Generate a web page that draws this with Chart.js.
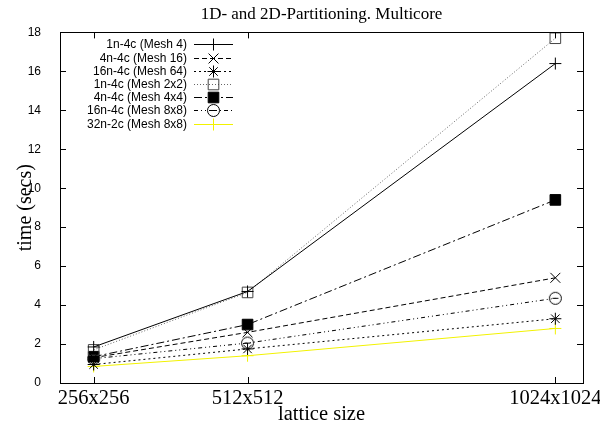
<!DOCTYPE html>
<html>
<head>
<meta charset="utf-8">
<script src="https://cdn.jsdelivr.net/npm/chart.js"></script>
<style>
  html, body { margin: 0; padding: 0; background: #fff; }
  #chart { display: block; }
</style>
</head>
<body>
<canvas id="chart" width="600" height="425"></canvas>
<script>
// lattice side lengths and their tick labels
const latticeSizes = [256, 512, 1024];
const latticeLabels = ['256x256', '512x512', '1024x1024'];
const yTicks = [0, 2, 4, 6, 8, 10, 12, 14, 16, 18];

// times in seconds
const mesh4 = [1.85, 4.7, 16.4];
const mesh16 = [1.3, 2.6, 5.4];
const mesh64 = [0.95, 1.75, 3.3];
const mesh2x2 = [1.7, 4.65, 17.7];
const mesh4x4 = [1.35, 3.0, 9.4];
const mesh8x8 = [1.25, 2.05, 4.35];
const mesh8x8_32n = [0.85, 1.4, 2.8];

const seriesNames = [
    '1n-4c (Mesh 4)', '4n-4c (Mesh 16)', '16n-4c (Mesh 64)', '1n-4c (Mesh 2x2)',
    '4n-4c (Mesh 4x4)', '16n-4c (Mesh 8x8)', '32n-2c (Mesh 8x8)'
];

// circle with a bar inside, gnuplot point type 6-ish
function makeCircleBar() {
    const c = document.createElement('canvas');
    c.width = 15; c.height = 15;
    const g = c.getContext('2d');
    g.strokeStyle = '#000';
    g.lineWidth = 1;
    g.beginPath();
    g.arc(7.5, 7.5, 6, 0, Math.PI * 2);
    g.stroke();
    g.beginPath();
    g.moveTo(4.5, 7.5);
    g.lineTo(10.5, 7.5);
    g.stroke();
    return c;
}
const circleBar = makeCircleBar();

function toPoints(values) {
    return values.map((v, i) => ({ x: latticeSizes[i], y: v }));
}

const styles = [
    { color: '#000', dash: [], point: 'cross', radius: 6, fill: '#000' },
    { color: '#000', dash: [5, 3], point: 'crossRot', radius: 7, fill: '#000' },
    { color: '#000', dash: [2, 3], point: 'star', radius: 6, fill: '#000' },
    { color: '#666', dash: [1, 2], point: 'rect', radius: 7.5, fill: 'rgba(0,0,0,0)', pointColor: '#444' },
    { color: '#000', dash: [8, 3, 2, 3], point: 'rect', radius: 7.5, fill: '#000' },
    { color: '#000', dash: [4, 3, 1, 3, 1, 3], point: circleBar, radius: 6, fill: '#000' },
    { color: '#f2f200', dash: [], point: 'cross', radius: 6, fill: '#f2f200' }
];

const allValues = [mesh4, mesh16, mesh64, mesh2x2, mesh4x4, mesh8x8, mesh8x8_32n];

const datasets = allValues.map((vals, i) => {
    const s = styles[i];
    return {
        label: seriesNames[i],
        data: toPoints(vals),
        borderColor: s.color,
        borderWidth: 1,
        borderDash: s.dash,
        pointStyle: s.point,
        pointRadius: s.radius,
        pointHoverRadius: s.radius,
        pointBorderColor: s.pointColor || s.color,
        pointBackgroundColor: s.fill,
        pointBorderWidth: 1,
        fill: false,
        tension: 0
    };
});

// draws a legend sample marker, gnuplot style
function drawMarker(ctx, s, x, y) {
    ctx.save();
    ctx.strokeStyle = s.pointColor || s.color;
    ctx.fillStyle = s.fill;
    ctx.lineWidth = 1;
    ctx.setLineDash([]);
    const r = s.radius;
    ctx.beginPath();
    if (s.point === 'cross') {
        ctx.moveTo(x - r, y); ctx.lineTo(x + r, y);
        ctx.moveTo(x, y - r); ctx.lineTo(x, y + r);
        ctx.stroke();
    } else if (s.point === 'crossRot') {
        const d = r * Math.SQRT1_2;
        ctx.moveTo(x - d, y - d); ctx.lineTo(x + d, y + d);
        ctx.moveTo(x - d, y + d); ctx.lineTo(x + d, y - d);
        ctx.stroke();
    } else if (s.point === 'star') {
        const d = r * Math.SQRT1_2;
        ctx.moveTo(x - r, y); ctx.lineTo(x + r, y);
        ctx.moveTo(x, y - r); ctx.lineTo(x, y + r);
        ctx.moveTo(x - d, y - d); ctx.lineTo(x + d, y + d);
        ctx.moveTo(x - d, y + d); ctx.lineTo(x + d, y - d);
        ctx.stroke();
    } else if (s.point === 'rect') {
        const h = r * Math.SQRT1_2;
        ctx.rect(x - h, y - h, 2 * h, 2 * h);
        ctx.fill();
        ctx.stroke();
    } else {
        ctx.drawImage(s.point, x - s.point.width / 2, y - s.point.height / 2);
    }
    ctx.restore();
}

// frame, inward ticks on all four sides and the key in the top left
const gnuplotFrame = {
    id: 'gnuplotFrame',
    afterDraw(chart) {
        const ctx = chart.ctx;
        const a = chart.chartArea;
        const xs = chart.scales.x;
        const ys = chart.scales.y;
        ctx.save();
        ctx.strokeStyle = '#000';
        ctx.lineWidth = 1;
        ctx.setLineDash([]);
        ctx.strokeRect(Math.round(a.left) + 0.5, Math.round(a.top) + 0.5,
            Math.round(a.right - a.left), Math.round(a.bottom - a.top));
        ctx.beginPath();
        yTicks.forEach(v => {
            const py = Math.round(ys.getPixelForValue(v)) + 0.5;
            if (v === 0 || v === 18) return;
            ctx.moveTo(a.left, py); ctx.lineTo(a.left + 6, py);
            ctx.moveTo(a.right, py); ctx.lineTo(a.right - 6, py);
        });
        latticeSizes.forEach(v => {
            const px = Math.round(xs.getPixelForValue(v)) + 0.5;
            ctx.moveTo(px, a.bottom); ctx.lineTo(px, a.bottom - 6);
            ctx.moveTo(px, a.top); ctx.lineTo(px, a.top + 6);
        });
        ctx.stroke();

        // key
        ctx.font = '12px "Liberation Sans", Arial, sans-serif';
        ctx.fillStyle = '#000';
        ctx.textAlign = 'right';
        ctx.textBaseline = 'middle';
        const textRight = a.left + 127;
        const lineStart = a.left + 134;
        const lineEnd = a.left + 173;
        seriesNames.forEach((name, i) => {
            const s = styles[i];
            const y = Math.round(a.top + 12 + i * 13.2) + 0.5;
            ctx.fillText(name, textRight, y);
            ctx.save();
            ctx.strokeStyle = s.color;
            ctx.setLineDash(s.dash);
            ctx.beginPath();
            ctx.moveTo(lineStart, y);
            ctx.lineTo(lineEnd, y);
            ctx.stroke();
            ctx.restore();
            drawMarker(ctx, s, (lineStart + lineEnd) / 2, y);
        });
        ctx.restore();
    }
};

const serif = '"Liberation Serif", "Times New Roman", serif';

const ctx = document.getElementById('chart').getContext('2d');
new Chart(ctx, {
    type: 'line',
    data: { datasets: datasets },
    plugins: [gnuplotFrame],
    options: {
        responsive: false,
        animation: false,
        layout: { padding: { left: 0, right: 17, top: 0, bottom: 0 } },
        plugins: {
            legend: { display: false },
            tooltip: { enabled: false },
            title: {
                display: true,
                fullSize: false,
                text: '1D- and 2D-Partitioning. Multicore',
                color: '#000',
                font: { family: serif, size: 17, weight: 'normal', lineHeight: 1.2 },
                padding: { top: 4, bottom: 8 }
            }
        },
        scales: {
            x: {
                type: 'linear',
                min: 200,
                max: 1070,
                grid: { display: false },
                border: { display: false },
                afterBuildTicks: (scale) => {
                    scale.ticks = latticeSizes.map(v => ({ value: v }));
                },
                afterFit: (scale) => { scale.height = 42; },
                ticks: {
                    autoSkip: false,
                    maxRotation: 0,
                    padding: -5,
                    color: '#000',
                    font: { family: serif, size: 20.5 },
                    callback: (v) => {
                        const i = latticeSizes.indexOf(v);
                        return i >= 0 ? latticeLabels[i] : '';
                    }
                },
                title: {
                    display: true,
                    text: 'lattice size',
                    color: '#000',
                    font: { family: serif, size: 20.5, lineHeight: 1 },
                    padding: { top: 0, bottom: 0 }
                }
            },
            y: {
                min: 0,
                max: 18,
                grid: { display: false },
                border: { display: false },
                afterFit: (scale) => { scale.width = 60; },
                ticks: {
                    stepSize: 2,
                    padding: 11,
                    color: '#000',
                    font: { family: '"Liberation Sans", Arial, sans-serif', size: 12 }
                },
                title: {
                    display: true,
                    text: 'time (secs)',
                    color: '#000',
                    font: { family: serif, size: 20, lineHeight: 1.2 },
                    padding: { top: 14, bottom: 0 }
                }
            }
        }
    }
});
</script>
</body>
</html>
